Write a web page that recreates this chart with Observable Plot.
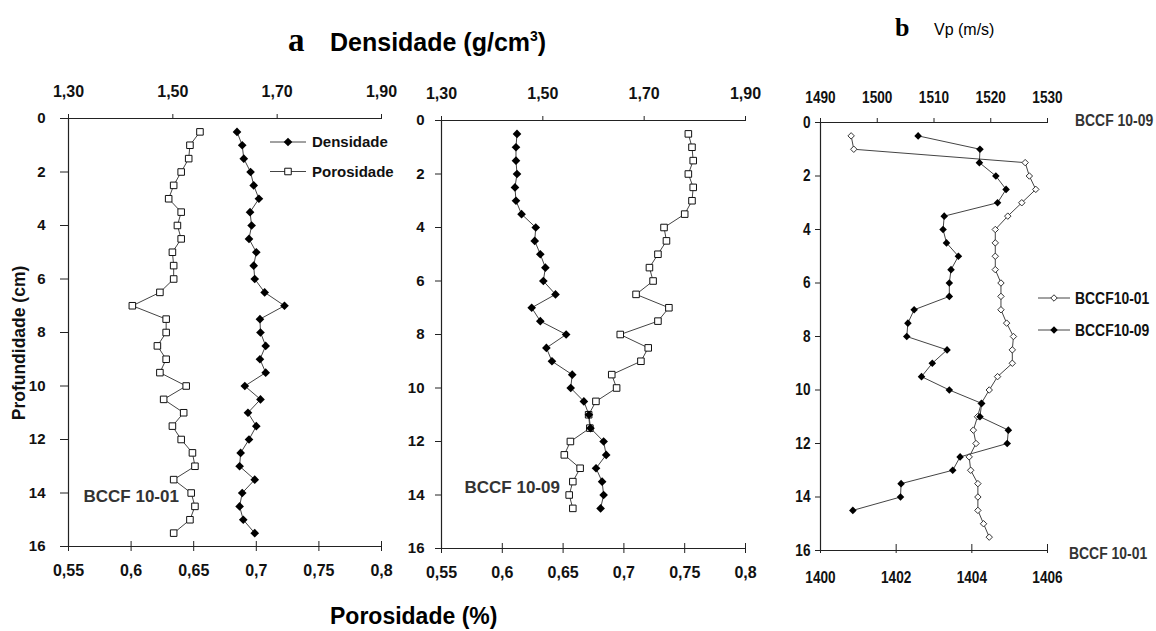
<!DOCTYPE html>
<html><head><meta charset="utf-8">
<script src="https://cdn.jsdelivr.net/npm/d3@7"></script>
<script src="https://cdn.jsdelivr.net/npm/@observablehq/plot@0.6"></script>
<style>
body{margin:0;background:#fff;}
#root{position:relative;width:1156px;height:631px;overflow:hidden;background:#fff;}
#root > svg{position:absolute;top:0;}
</style></head><body><div id="root"></div>
<script>
// ---------- data ----------
const depthTicks = [0, 2, 4, 6, 8, 10, 12, 14, 16];
const densityTicks = [1.30, 1.50, 1.70, 1.90];
const porosityTicks = [0.55, 0.6, 0.65, 0.7, 0.75, 0.8];
const vp09Ticks = [1490, 1500, 1510, 1520, 1530];
const vp01Ticks = [1400, 1402, 1404, 1406];

const depthA = [0.5,1,1.5,2,2.5,3,3.5,4,4.5,5,5.5,6,6.5,7,7.5,8,8.5,9,9.5,10,10.5,11,11.5,12,12.5,13,13.5,14,14.5,15,15.5];
const depthB = [0.5,1,1.5,2,2.5,3,3.5,4,4.5,5,5.5,6,6.5,7,7.5,8,8.5,9,9.5,10,10.5,11,11.5,12,12.5,13,13.5,14,14.5];

// BCCF 10-01 (panel a, left)
const density01 = [1.623,1.633,1.636,1.649,1.655,1.665,1.648,1.651,1.646,1.660,1.655,1.657,1.676,1.714,1.667,1.668,1.678,1.667,1.678,1.638,1.668,1.644,1.660,1.646,1.630,1.628,1.657,1.633,1.628,1.635,1.657];
const porosity01 = [0.655,0.647,0.646,0.640,0.634,0.630,0.640,0.637,0.640,0.633,0.634,0.634,0.623,0.601,0.628,0.628,0.621,0.628,0.623,0.644,0.626,0.642,0.633,0.640,0.649,0.651,0.634,0.648,0.651,0.647,0.634];
// BCCF 10-09 (panel a, right)
const density09 = [1.449,1.447,1.447,1.449,1.445,1.447,1.458,1.486,1.484,1.495,1.505,1.501,1.525,1.478,1.495,1.546,1.507,1.518,1.558,1.555,1.581,1.591,1.594,1.620,1.625,1.605,1.617,1.620,1.614];
const porosity09 = [0.753,0.756,0.757,0.753,0.757,0.756,0.750,0.733,0.735,0.728,0.721,0.724,0.710,0.737,0.728,0.697,0.720,0.714,0.690,0.694,0.677,0.671,0.672,0.656,0.651,0.664,0.658,0.655,0.658];
// panel b: Vp (m/s)
const vp01 = [1400.81,1400.88,1405.41,1405.52,1405.69,1405.32,1404.95,1404.62,1404.62,1404.62,1404.62,1404.77,1404.77,1404.77,1404.92,1405.10,1405.07,1405.07,1404.68,1404.46,1404.25,1404.15,1404.04,1404.11,1403.93,1403.97,1404.16,1404.16,1404.16,1404.31,1404.46];
const vp09 = [1507.2,1518.1,1518.0,1520.9,1522.7,1521.2,1511.8,1511.6,1512.2,1514.3,1513.0,1512.7,1512.7,1506.5,1505.4,1505.2,1512.3,1509.7,1507.8,1512.7,1518.4,1518.1,1523.1,1522.9,1514.6,1513.3,1504.2,1504.1,1495.7];

// ---------- helpers ----------
const loc = d3.formatLocale({decimal: ",", thousands: ".", grouping: [3], currency: ["", ""]});
const f2 = loc.format(".2f");
const fTrim = loc.format("~g");
// density axis (top) mapped onto porosity axis (bottom) of panel a
const densToPor = d => 0.55 + (d - 1.30) * (0.25 / 0.60);
const porToDens = p => 1.30 + (p - 0.55) * (0.60 / 0.25);
// Vp top axis (BCCF 10-09) mapped onto bottom axis (BCCF 10-01)
const vpTopToBottom = v => 1400 + (v - 1490) * (6 / 40);
const vpBottomToTop = v => 1490 + (v - 1400) * (40 / 6);

const SANS = "'Liberation Sans', Arial, Helvetica, sans-serif";
const LINE = "#444";

function densityPanel(density, porosity, depth, cfg) {
  const dens = depth.map((d, i) => ({depth: d, x: densToPor(density[i])}));
  const por = depth.map((d, i) => ({depth: d, x: porosity[i]}));
  return Plot.plot({
    width: cfg.width, height: 600,
    marginLeft: cfg.ml, marginRight: cfg.mr, marginTop: cfg.mt, marginBottom: cfg.mb,
    style: {background: "transparent", overflow: "visible", fontFamily: SANS, fontSize: "15px", fontWeight: "bold", color: "#111"},
    x: {domain: [0.55, 0.8]},
    y: {domain: [0, 16], reverse: true},
    marks: [
      Plot.ruleX([0.55], {stroke: "#222", strokeWidth: 1.2}),
      Plot.ruleY([0, 16], {stroke: "#222", strokeWidth: 1.2}),
      Plot.axisY({ticks: depthTicks, tickSize: cfg.ytick, tickPadding: cfg.ypad, tickFormat: d => String(d), label: null, stroke: "#222"}),
      Plot.axisX({anchor: "top", ticks: densityTicks.map(densToPor), tickFormat: v => f2(porToDens(v)), tickSize: 5, tickPadding: 17, label: null, fontSize: 16, stroke: "#222"}),
      Plot.axisX({anchor: "bottom", ticks: porosityTicks, tickSize: 10, dy: -5, tickFormat: () => "", label: null, stroke: "#222"}),
      Plot.axisX({anchor: "bottom", ticks: porosityTicks, tickSize: 0, tickPadding: 18, tickFormat: fTrim, label: null, fontSize: 16}),
      Plot.line(por, {x: "x", y: "depth", stroke: LINE, strokeWidth: 1}),
      Plot.line(dens, {x: "x", y: "depth", stroke: LINE, strokeWidth: 1}),
      Plot.dot(por, {x: "x", y: "depth", symbol: "square", r: 3.7, fill: "white", stroke: "#111", strokeWidth: 1}),
      Plot.dot(dens, {x: "x", y: "depth", symbol: "diamond2", r: 3.9, fill: "#000", stroke: "none"}),
      Plot.text([cfg.label], {frameAnchor: "bottom-left", dx: cfg.ldx, dy: cfg.ldy, textAnchor: "start", lineAnchor: "middle", fontSize: 17, fill: "#333"})
    ]
  });
}

function vpPanel() {
  const s01 = depthA.map((d, i) => ({depth: d, x: vp01[i]}));
  const s09 = depthB.map((d, i) => ({depth: d, x: vpTopToBottom(vp09[i])}));
  return Plot.plot({
    width: 386, height: 600,
    marginLeft: 50, marginRight: 109, marginTop: 122, marginBottom: 50,
    style: {background: "transparent", overflow: "visible", fontFamily: SANS, fontSize: "17px", fontWeight: "bold", color: "#111"},
    x: {domain: [1400, 1406]},
    y: {domain: [0, 16], reverse: true},
    marks: [
      Plot.ruleX([1400], {stroke: "#222", strokeWidth: 1.2}),
      Plot.ruleY([0, 16], {stroke: "#222", strokeWidth: 1.2}),
      Plot.axisY({ticks: depthTicks, tickSize: 5, tickPadding: 5, tickFormat: d => String(d), label: null, stroke: "#222"}),
      Plot.axisX({anchor: "top", ticks: vp09Ticks.map(vpTopToBottom), tickFormat: v => String(Math.round(vpBottomToTop(v))), tickSize: 5, tickPadding: 15, label: null, fontSize: 17, stroke: "#222"}),
      Plot.axisX({anchor: "bottom", ticks: vp01Ticks, tickSize: 9, dy: -6, tickFormat: () => "", label: null, stroke: "#222"}),
      Plot.axisX({anchor: "bottom", ticks: vp01Ticks, tickSize: 0, tickPadding: 20, tickFormat: d => String(d), label: null, fontSize: 17}),
      Plot.line(s01, {x: "x", y: "depth", stroke: LINE, strokeWidth: 1}),
      Plot.dot(s01, {x: "x", y: "depth", symbol: "diamond2", r: 2.9, fill: "white", stroke: "#333", strokeWidth: 1}),
      Plot.line(s09, {x: "x", y: "depth", stroke: LINE, strokeWidth: 1}),
      Plot.dot(s09, {x: "x", y: "depth", symbol: "diamond2", r: 3.4, fill: "#000", stroke: "none"})
    ]
  });
}

const root = document.getElementById("root");
const p1 = densityPanel(density01, porosity01, depthA, {width: 420, ml: 68, mr: 39, mt: 118, mb: 54, ytick: 8, ypad: 15, label: "BCCF 10-01", ldx: 15, ldy: -50});
p1.style.left = "0px";
const p2 = densityPanel(density09, porosity09, depthB, {width: 370, ml: 41, mr: 25, mt: 120, mb: 52, ytick: 6, ypad: 11, label: "BCCF 10-09", ldx: 23, ldy: -61});
p2.style.left = "400px";
const p3 = vpPanel();
p3.style.left = "770px";
root.append(p1, p2, p3);

// condensed look (Helvetica Narrow in the original): squeeze glyphs horizontally
function condense(sel, factor) {
  sel.each(function () {
    const l = this.getComputedTextLength();
    if (l > 0) {
      this.setAttribute("textLength", (l * factor).toFixed(2));
      this.setAttribute("lengthAdjust", "spacingAndGlyphs");
    }
  });
}
condense(d3.select(p3).selectAll("text"), 0.8);

// ---------- titles, annotations & legends ----------
const ov = d3.select(root).append("svg").attr("width", 1156).attr("height", 631)
  .style("left", "0px").style("pointer-events", "none");

ov.append("text").attr("x", 288).attr("y", 51).attr("font-family", "'Liberation Serif','DejaVu Serif',serif")
  .attr("font-weight", "bold").attr("font-size", 33).attr("fill", "#000").text("a");
const t1 = ov.append("text").attr("x", 330).attr("y", 51).attr("font-family", SANS)
  .attr("font-weight", "bold").attr("font-size", 25).attr("fill", "#000");
t1.append("tspan").text("Densidade (g/cm");
t1.append("tspan").attr("dy", -10).attr("font-size", 14).text("3");
t1.append("tspan").attr("dy", 10).text(")");

ov.append("text").attr("x", 895).attr("y", 36).attr("font-family", "'Liberation Serif','DejaVu Serif',serif")
  .attr("font-weight", "bold").attr("font-size", 26).attr("fill", "#000").text("b");
ov.append("text").attr("x", 934).attr("y", 35).attr("font-family", SANS)
  .attr("font-size", 16).attr("fill", "#000").text("Vp (m/s)");

ov.append("text").attr("transform", "translate(25,343) rotate(-90)").attr("text-anchor", "middle")
  .attr("font-family", SANS).attr("font-weight", "bold").attr("font-size", 17.5).attr("fill", "#111")
  .text("Profundidade (cm)");
ov.append("text").attr("x", 330).attr("y", 624).attr("font-family", SANS)
  .attr("font-weight", "bold").attr("font-size", 23).attr("fill", "#000").text("Porosidade (%)");

// narrow text placed through a horizontally scaled group
function narrowText(x, y, label, size, fill) {
  ov.append("g").attr("transform", `translate(${x},${y}) scale(0.82,1)`)
    .append("text").attr("x", 0).attr("y", 0).attr("dy", "0.35em")
    .attr("font-family", SANS).attr("font-weight", "bold").attr("font-size", size).attr("fill", fill).text(label);
}
narrowText(1075, 120.5, "BCCF 10-09", 17, "#333");
narrowText(1069, 553.5, "BCCF 10-01", 17, "#333");

function legendRow(x0, x1, y, label, sym, size, narrow) {
  ov.append("line").attr("x1", x0).attr("x2", x1).attr("y1", y).attr("y2", y).attr("stroke", LINE).attr("stroke-width", 1);
  const cx = (x0 + x1) / 2;
  const p = d3.symbol().type(sym.type).size(Math.PI * sym.r * sym.r)();
  ov.append("path").attr("d", p).attr("transform", `translate(${cx},${y})`)
    .attr("fill", sym.fill).attr("stroke", sym.stroke).attr("stroke-width", 1);
  if (narrow) {
    narrowText(x1 + 5, y, label, size, "#111");
  } else {
    ov.append("text").attr("x", x1 + 6).attr("y", y).attr("dy", "0.35em").attr("font-family", SANS)
      .attr("font-weight", "bold").attr("font-size", size).attr("fill", "#111").text(label);
  }
}
legendRow(270, 306, 142, "Densidade", {type: d3.symbolDiamond2, r: 3.9, fill: "#000", stroke: "none"}, 15, false);
legendRow(270, 306, 171.5, "Porosidade", {type: d3.symbolSquare, r: 3.7, fill: "#fff", stroke: "#111"}, 15, false);
legendRow(1038, 1070, 298, "BCCF10-01", {type: d3.symbolDiamond2, r: 2.9, fill: "#fff", stroke: "#333"}, 17, true);
legendRow(1038, 1070, 330, "BCCF10-09", {type: d3.symbolDiamond2, r: 3.4, fill: "#000", stroke: "none"}, 17, true);
</script></body></html>
